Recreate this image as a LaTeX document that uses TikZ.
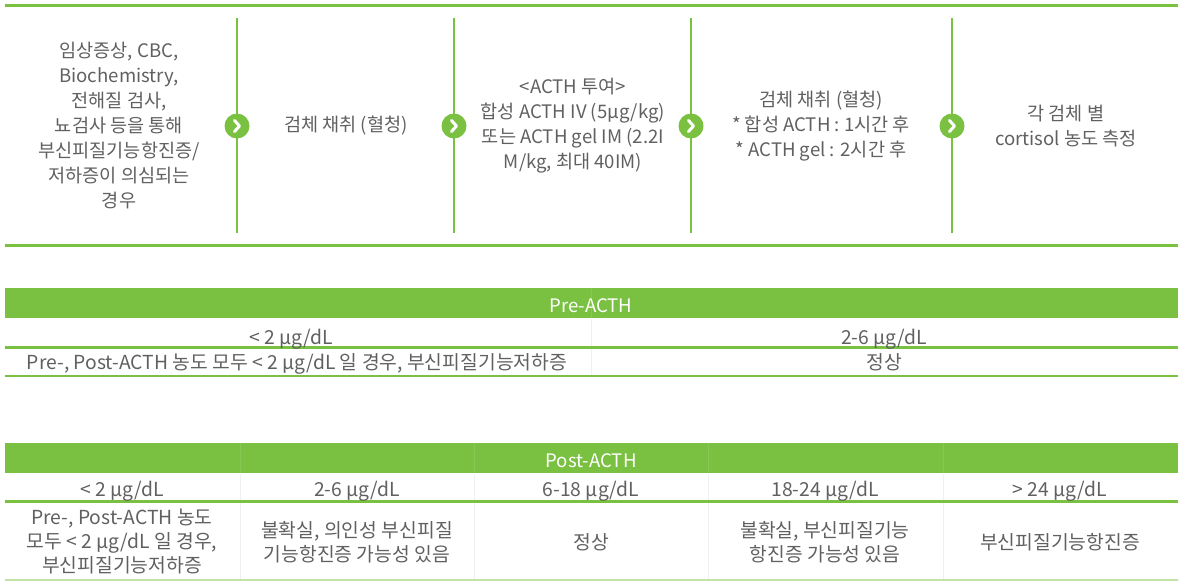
\documentclass[tikz,border=0pt]{standalone}
\usepackage{fontspec}
\setmainfont{Noto Sans CJK KR}
\usepackage{xcolor}
\usepackage{tikz}
\usetikzlibrary{positioning,calc}
\definecolor{leafgreen}{HTML}{7AC142}
\definecolor{palegreen}{HTML}{C2E2A6}
\definecolor{inkgray}{HTML}{606060}
\newcommand{\flowfont}{\fontsize{18.6}{25}\selectfont}
\newcommand{\cellfont}{\fontsize{19.3}{24}\selectfont}
\newcommand{\headfont}{\fontsize{18.6}{24}\selectfont}

\tikzset{
  flowtext/.style={align=center, text=inkgray, font=\flowfont, inner sep=0pt},
  celltext/.style={align=center, text=inkgray, font=\cellfont, inner sep=0pt},
  headtext/.style={text=white, font=\headfont, inner sep=0pt, anchor=base},
  chevdot/.style={circle, fill=leafgreen, minimum size=25pt, inner sep=0pt},
  chevmark/.style={white, line width=3pt, line cap=round, line join=round},
  bandline/.style={leafgreen, line width=3pt},
  sepline/.style={leafgreen, line width=2.2pt},
  rowline/.style={leafgreen, line width=2.5pt},
  paleline/.style={palegreen, line width=2pt},
  faintsep/.style={black!6, line width=0.8pt},
  headsep/.style={white, opacity=0.1, line width=0.8pt},
}

\begin{document}
\begin{tikzpicture}[x=1pt, y=-1pt]
  \useasboundingbox (0,0) rectangle (1178,581);
  \def\xl{5} \def\xr{1178}
  % flow panel
  \draw[bandline] (\xl,5) -- (\xr,5);
  \draw[bandline] (\xl,245) -- (\xr,245);
  \foreach \x [count=\i] in {237,454,691,952} {
    \draw[sepline] (\x,18) -- (\x,233);
    \node[chevdot] (chev\i) at (\x,126) {};
    \draw[chevmark] ([shift={(-2.5,-5.5)}]chev\i.center) -- ([shift={(2.5,0)}]chev\i.center)
          -- ([shift={(-2.5,5.5)}]chev\i.center);
  }
  \node[flowtext] (suspect) at (119,126) {임상증상, CBC,\\Biochemistry,\\전해질 검사,\\뇨검사 등을 통해\\부신피질기능항진증/\\저하증이 의심되는\\경우};
  \node[flowtext] (sample1) at (346,126) {검체 채취 (혈청)};
  \node[flowtext] (dose) at (573,126) {<ACTH 투여>\\합성 ACTH IV (5μg/kg)\\또는 ACTH gel IM (2.2I\\M/kg, 최대 40IM)};
  \node[flowtext] (sample2) at (821,126) {검체 채취 (혈청)\\* 합성 ACTH : 1시간 후\\* ACTH gel : 2시간 후};
  \node[flowtext] (measure) at (1066,126) {각 검체 별\\cortisol 농도 측정};
  % pre-ACTH table
  \fill[leafgreen] (\xl,288) rectangle (\xr,318);
  \draw[headsep] (591,288) -- (591,318);
  \draw[faintsep] (591,319) -- (591,375);
  \node[headtext] (prehead) at (591,312) {Pre-ACTH};
  \draw[rowline] (\xl,347.5) -- (\xr,347.5);
  \draw[rowline] (\xl,376) -- (\xr,376);
  \node[celltext, anchor=base] (prelow) at (291,344) {< 2 μg/dL};
  \node[celltext, anchor=base] (premid) at (884,344) {2-6 μg/dL};
  \node[celltext, anchor=base] (prelowres) at (297,369) {Pre-, Post-ACTH 농도 모두 < 2 μg/dL 일 경우, 부신피질기능저하증};
  \node[celltext, anchor=base] (premidres) at (884,369) {정상};
  % post-ACTH table
  \fill[leafgreen] (\xl,443) rectangle (\xr,473);
  \node[headtext] (posthead) at (591,467) {Post-ACTH};
  \foreach \x in {240,474,708,943} {
    \draw[headsep] (\x,443) -- (\x,473);
    \draw[faintsep] (\x,474) -- (\x,579);
  }
  \draw[rowline] (\xl,501.5) -- (\xr,501.5);
  \draw[paleline] (\xl,580) -- (\xr,580);
  \foreach \x/\t [count=\i] in {122/{< 2 μg/dL},357/{2-6 μg/dL},591/{6-18 μg/dL},825/{18-24 μg/dL},1060/{> 24 μg/dL}}
    \node[celltext, anchor=base] (postrange\i) at (\x,496) {\t};
  \node[celltext] (postres1) at (122,541) {Pre-, Post-ACTH 농도\\모두 < 2 μg/dL 일 경우,\\부신피질기능저하증};
  \node[celltext] (postres2) at (357,542) {불확실, 의인성 부신피질\\기능항진증 가능성 있음};
  \node[celltext] (postres3) at (591,542) {정상};
  \node[celltext] (postres4) at (825,542) {불확실, 부신피질기능\\항진증 가능성 있음};
  \node[celltext] (postres5) at (1060,542) {부신피질기능항진증};
\end{tikzpicture}
\end{document}
